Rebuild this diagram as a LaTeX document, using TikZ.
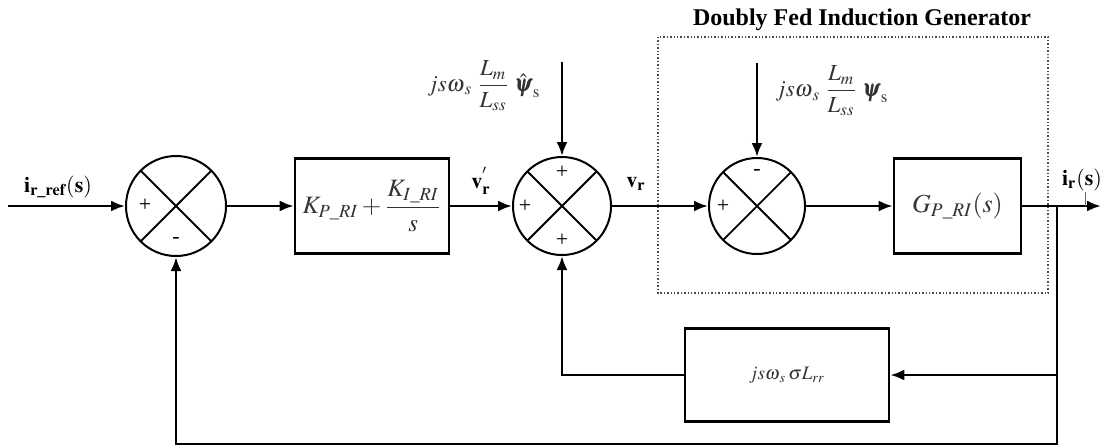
\documentclass[tikz,border=0pt]{standalone}
\usepackage{amsmath}
\usepackage{mathptmx}
\usepackage{bm}
\usepackage{fontspec}
\setmainfont{Liberation Serif}
\usetikzlibrary{arrows.meta,calc}
\begin{document}
\begin{tikzpicture}[x=0.5pt,y=-0.5pt,
  wire/.style={line width=1.3pt},
  arr/.style={wire,-{Latex[length=7pt,width=5.5pt]}},
  blockbox/.style={draw,line width=1.3pt,rectangle,inner sep=0pt},
  sumj/.style={draw,circle,line width=1pt,inner sep=0pt,
    path picture={\draw[line width=0.9pt]
      (path picture bounding box.south west)--(path picture bounding box.north east)
      (path picture bounding box.north west)--(path picture bounding box.south east);}},
  sgn/.style={font=\fontsize{11}{11}\selectfont},
  mlab/.style={text=black!80,inner sep=1pt},
  slab/.style={font=\fontsize{11}{12}\selectfont\bfseries}]
\useasboundingbox (0,0) rectangle (1101,446);
% DFIG dotted frame
\draw[densely dotted,line width=0.7pt,black!70] (658,37) rectangle (1048,293);
\node[font=\fontsize{12}{14}\selectfont\bfseries] (title) at (862,20) {Doubly Fed Induction Generator};
% summing junctions
\node[sumj,minimum size=50pt] (s1) at (176,206) {};
\node[sumj,minimum size=49pt] (s2) at (562,206) {};
\node[sumj,minimum size=48pt] (s3) at (757,206) {};
% blocks
\node[blockbox,minimum width=77pt,minimum height=47.5pt] (b1) at (372,206)
  {\fontsize{12.5}{14}\selectfont\color{black!80}$K_{P\_RI}+\dfrac{K_{I\_RI}}{s}$};
\node[blockbox,minimum width=63.5pt,minimum height=47.5pt] (bG) at (957.5,206)
  {\fontsize{13}{15}\selectfont\color{black!80}$G_{P\_RI}(s)$};
\node[blockbox,minimum width=102pt,minimum height=46.5pt] (bF) at (787,375)
  {\fontsize{9.5}{11}\selectfont\color{black!80}$js\omega{}_{s}\,\sigma L_{rr}$};
% signs
\node[sgn] (s1p) at (145,205) {+};
\node[sgn] (s1m) at (176,240) {-};
\node[sgn] (s2l) at (525,206) {+};
\node[sgn] (s2t) at (562,172) {+};
\node[sgn] (s2b) at (562,240) {+};
\node[sgn] (s3l) at (723,206) {+};
\node[sgn] (s3t) at (757,172) {-};
% coordinates
\coordinate (in) at (8,206);
\coordinate (out) at (1101,206);
\coordinate (br) at (1057,206);
\coordinate (bot) at (1057,444);
\coordinate (p1) at (562,62);
\coordinate (p2) at (757,63);
\coordinate (tk1) at (1085,192);
\coordinate (tk2) at (1085,206);
% main path
\draw[arr] (in) -- (s1.west);
\draw[arr] (s1.east) -- (b1.west);
\draw[arr] (b1.east) -- (s2.west);
\draw[arr] (s2.east) -- (s3.west);
\draw[arr] (s3.east) -- (bG.west);
\draw[arr] (bG.east) -- (out);
\draw[line width=0.4pt,black!60] (tk1) -- (tk2);
% disturbance inputs
\draw[arr] (p1) -- (s2.north);
\draw[arr] (p2) -- (s3.north);
% feedback
\draw[arr] (br) |- (bF.east);
\draw[arr] (bF.west) -| (s2.south);
\draw[arr] (br) -- (bot) -| (s1.south);
% labels
\node[slab] (lin) at (58,187) {$\mathbf{i}_{\mathbf{r\_ref}}\mathbf{(s)}$};
\node[slab] (lvp) at (481,181) {$\mathbf{v}_{\mathbf{r}}^{'}$};
\node[slab] (lv) at (636,184) {$\mathbf{v}_{\mathbf{r}}$};
\node[slab] (lout) at (1082,180) {$\mathbf{i}_{\mathbf{r}}\mathbf{(s)}$};
\node[mlab,font=\fontsize{11.5}{14}\selectfont] (lp1) at (484,86) {$js\omega{}_{s}\;\dfrac{L_m}{L_{ss}}\;\hat{\bm{\psi}}_{\mathrm{s}}$};
\node[mlab,font=\fontsize{11.5}{13}\selectfont] (lp2) at (832,91) {$js\omega{}_{s}\;\dfrac{L_m}{L_{ss}}\;\bm{\psi}_{\mathrm{s}}$};
\end{tikzpicture}
\end{document}
